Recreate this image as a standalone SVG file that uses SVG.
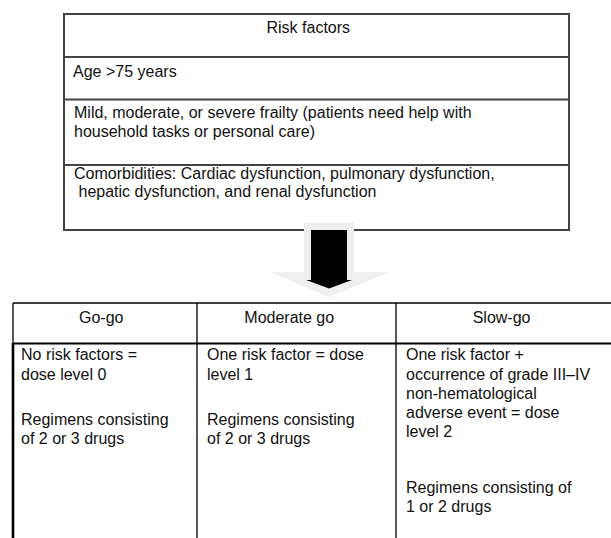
<svg xmlns="http://www.w3.org/2000/svg" width="611" height="538" viewBox="0 0 611 538">
<style>
text{font-family:"Liberation Sans",Arial,sans-serif;font-size:16px;fill:#111}
.box{fill:#fff;stroke:#444;stroke-width:2}
.div{stroke:#444;stroke-width:2}
.tl{stroke:#000;stroke-width:1.3;fill:none}
</style>
<rect width="611" height="538" fill="#fff"/>
<g id="risk-factors">
<rect class="box" x="64" y="14" width="505" height="216"/>
<line class="div" x1="64" y1="57" x2="569" y2="57"/>
<line class="div" x1="64" y1="99.5" x2="569" y2="99.5"/>
<line class="div" x1="64" y1="165" x2="569" y2="165"/>
<text x="266.5" y="33.3">Risk factors</text>
<text x="73" y="77.3">Age &gt;75 years</text>
<text x="74" y="118.3">Mild, moderate, or severe frailty (patients need help with</text>
<text x="74" y="136.7">household tasks or personal care)</text>
<text x="74" y="179.3">Comorbidities: Cardiac dysfunction, pulmonary dysfunction,</text>
<text x="78.5" y="197.3">hepatic dysfunction, and renal dysfunction</text>
</g>
<g id="connectors">
<path d="M304,222.5 H354 V272 H390 L329,297 L270,272 H304 Z" fill="#efefef"/>
<path d="M311,230 H347 V280 H352 L329,288.5 L306,280 H311 Z" fill="#000"/>
</g>
<g id="table-frame">
<line class="tl" x1="13" y1="303" x2="612" y2="303"/>
<line x1="13" y1="343.5" x2="612" y2="343.5" stroke="#000" stroke-width="2"/>
<line class="tl" x1="13" y1="303" x2="13" y2="343"/>
<line x1="13" y1="343" x2="13" y2="538" stroke="#000" stroke-width="2.6"/>
<line class="tl" x1="197" y1="303" x2="197" y2="538"/>
<line class="tl" x1="396" y1="303" x2="396" y2="538"/>
</g>
<g id="go-go">
<text x="79" y="323.3">Go-go</text>
<text x="21" y="359.5">No risk factors =</text>
<text x="21" y="379.5">dose level 0</text>
<text x="21" y="425">Regimens consisting</text>
<text x="21" y="443.5">of 2 or 3 drugs</text>
</g>
<g id="moderate-go">
<text x="244.3" y="323.3">Moderate go</text>
<text x="207" y="359.5">One risk factor = dose</text>
<text x="207" y="379.5">level 1</text>
<text x="207" y="425">Regimens consisting</text>
<text x="207" y="443.5">of 2 or 3 drugs</text>
</g>
<g id="slow-go">
<text x="472.7" y="323.3">Slow-go</text>
<text x="406" y="359.5">One risk factor +</text>
<text x="406" y="379.5">occurrence of grade III–IV</text>
<text x="406" y="399.3">non-hematological</text>
<text x="406" y="418.3">adverse event = dose</text>
<text x="406" y="437">level 2</text>
<text x="406" y="493.3">Regimens consisting of</text>
<text x="406" y="512">1 or 2 drugs</text>
</g>
</svg>
